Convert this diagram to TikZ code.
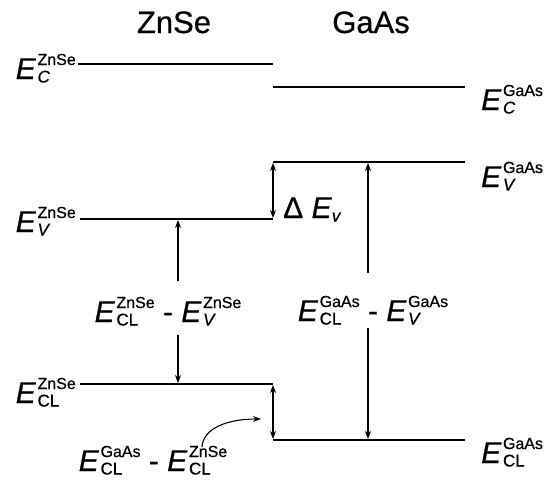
\documentclass[tikz,border=0pt]{standalone}
\usepackage{fontspec}
\setmainfont[FakeBold=0.6]{Liberation Sans}
\usetikzlibrary{arrows.meta}
\newcommand{\supsize}{\fontsize{16}{16}\selectfont}
\newcommand{\subsize}{\fontsize{17}{17}\selectfont}
\newcommand{\Elvl}[2]{\textit{E}\kern1.5pt\rlap{\raisebox{-3.5pt}{\subsize #2}}\raisebox{14pt}{\supsize #1}}
\tikzset{
	level/.style={line width=2.8pt},
	span/.style={line width=1.1pt, -{Stealth[length=8pt,width=6pt]}},
	bispan/.style={line width=1.1pt, {Stealth[length=8pt,width=6pt]}-{Stealth[length=8pt,width=6pt]}},
	lbl/.style={inner sep=0pt, font=\fontsize{30}{32}\selectfont},
	title/.style={inner sep=0pt, font=\fontsize{31}{33}\selectfont}
}
\begin{document}
	\begin{tikzpicture}[x=1pt, y=-1pt]
		\useasboundingbox (0,0) rectangle (550,485);

		\node[title, anchor=base] (zntitle) at (174,33) {ZnSe};
		\node[title, anchor=base] (gatitle) at (371,33) {GaAs};

		% band edges
		\coordinate (czL) at (78,64);   \coordinate (czR) at (273,64);
		\coordinate (cgL) at (273,87);  \coordinate (cgR) at (465,87);
		\coordinate (vgL) at (273,162); \coordinate (vgR) at (465,162);
		\coordinate (vzL) at (80,219);  \coordinate (vzR) at (273,219);
		\coordinate (lzL) at (80,384);  \coordinate (lzR) at (273,384);
		\coordinate (lgL) at (273,440); \coordinate (lgR) at (465,440);

		\draw[level] (czL) -- (czR);
		\draw[level] (cgL) -- (cgR);
		\draw[level] (vgL) -- (vgR);
		\draw[level] (vzL) -- (vzR);
		\draw[level] (lzL) -- (lzR);
		\draw[level] (lgL) -- (lgR);

		\node[lbl, anchor=base east] (ECzn) at (76,79) {\Elvl{ZnSe}{\textit{C}}};
		\node[lbl, anchor=base east] (EVzn) at (76,232) {\Elvl{ZnSe}{\textit{V}}};
		\node[lbl, anchor=base east] (ELzn) at (76,403) {\Elvl{ZnSe}{CL}};
		\node[lbl, anchor=base west] (ECga) at (481,110) {\Elvl{GaAs}{\textit{C}}};
		\node[lbl, anchor=base west] (EVga) at (481,187) {\Elvl{GaAs}{\textit{V}}};
		\node[lbl, anchor=base west] (ELga) at (481,463) {\Elvl{GaAs}{CL}};

		% offsets
		\coordinate (dvT) at (273,163); \coordinate (dvB) at (273,218);
		\draw[bispan] (dvT) -- (dvB);
		\node[lbl, anchor=base west] (dEv) at (283,218) {Δ \textit{E}\raisebox{-3.5pt}{\subsize\textit{v}}};

		\node[lbl, anchor=base] (znspan) at (168,322) {\Elvl{ZnSe}{CL} - \Elvl{ZnSe}{\textit{V}}};
		\coordinate (znA) at (178,281); \coordinate (znV) at (178,220);
		\coordinate (znB) at (178,335); \coordinate (znL) at (178,383);
		\draw[span] (znA) -- (znV);
		\draw[span] (znB) -- (znL);

		\node[lbl, anchor=base] (gaspan) at (373,321) {\Elvl{GaAs}{CL} - \Elvl{GaAs}{\textit{V}}};
		\coordinate (gaA) at (368,273); \coordinate (gaV) at (368,163);
		\coordinate (gaB) at (368,328); \coordinate (gaL) at (368,439);
		\draw[span] (gaA) -- (gaV);
		\draw[span] (gaB) -- (gaL);

		\coordinate (clT) at (273,385); \coordinate (clB) at (273,439);
		\draw[bispan] (clT) -- (clB);
		\node[lbl, anchor=base] (clspan) at (153,471) {\Elvl{GaAs}{CL} - \Elvl{ZnSe}{CL}};
		\coordinate (bendS) at (202,447); \coordinate (bendE) at (261,419);
		\draw[span] (bendS) .. controls (203,428) and (228,419) .. (bendE);
	\end{tikzpicture}
\end{document}
